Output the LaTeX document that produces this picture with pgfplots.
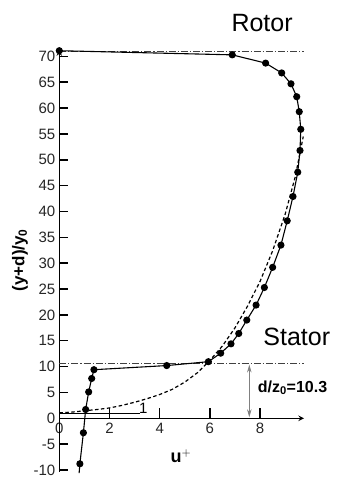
\documentclass[border=0pt]{standalone}
\usepackage{pgfplots}
\pgfplotsset{compat=1.18}
\usepackage{fontspec}
\setmainfont{Liberation Sans}
\usetikzlibrary{arrows.meta}
\pgfplotsset{
  common/.style={
    at={(0,0)}, anchor=origin,
    x=25.1bp, y=5.17bp,
    xmin=0, xmax=9.75,
    axis line style={-, line width=1.5pt},
    major tick length=10bp,
    every tick/.style={line width=1.5pt, black},
    /pgf/number format/assume math mode=true,
    ticklabel style={font=\fontsize{15bp}{17bp}\selectfont, text=black!85},
    clip=false,
  }
}
\begin{document}
\begin{tikzpicture}
\useasboundingbox (-59.3bp,-58.7bp) rectangle (279.7bp,418.3bp);
% x axis at y = 0
\begin{axis}[common,
  ymin=0, ymax=71.2,
  axis x line=bottom, axis y line=none,
  xtick={0,2,4,6,8}, ytick=\empty,
  xtick align=inside,
  xticklabel style={yshift=-1bp},
]
\addplot[draw=none] coordinates {(0,0)};
\end{axis}
\begin{axis}[common,
  ymin=-10.3, ymax=71.2,
  axis y line=left, axis x line=none,
  xtick=\empty,
  ytick={-10,-5,0,5,10,15,20,25,30,35,40,45,50,55,60,65,70},
  ytick align=inside,
  major tick length=9bp,
  yticklabel style={xshift=-0.5bp},
]
\addplot[black!75, line width=0.7pt, dash pattern=on 7pt off 2pt on 1.2pt off 2pt] coordinates {(0,70.9) (9.75,70.9)};
\addplot[black!75, line width=0.7pt, dash pattern=on 7pt off 2pt on 1.2pt off 2pt] coordinates {(0,10.6) (9.75,10.6)};
\addplot[black, line width=0.5pt] coordinates {(0,1.0) (3.2,1.0)};
\addplot[black, line width=1.2pt, dash pattern=on 3.5pt off 2.5pt] coordinates {
(0,1.05) (0.5,1.2) (1,1.45) (1.5,1.7) (2,2.0) (2.5,2.5) (3,3.1) (3.5,3.8) (4,4.6) (4.5,5.6) (5,7.0) (5.5,8.8) (6,11.2) (6.5,14.0) (7,17.5) (7.5,21.7) (8,26.5) (8.5,32.4) (9,39.5) (9.4,46.7) (9.72,54.5)};
\addplot[black, line width=1.1pt, mark=*, mark size=3bp] coordinates {
(0,71.1) (6.89,70.3) (8.22,68.7) (8.86,66.8) (9.23,64.7) (9.46,62.2) (9.56,59.3) (9.62,55.9) (9.59,51.8) (9.5,47.6) (9.31,42.9) (9.08,38.2) (8.83,33.5) (8.5,29.2) (8.17,25.3) (7.84,21.9) (7.47,19.0) (7.15,16.4) (6.84,14.4) (6.43,12.6) (5.94,10.95) (4.28,10.2) (1.38,9.4) (1.29,7.7) (1.17,5.1) (1.05,1.7) (0.96,-2.8) (0.82,-8.8)};
\addplot[black, line width=1.1pt] coordinates {(0.82,-8.8) (0.79,-10.6)};
\draw[gray, line width=0.9pt, {Stealth[length=8bp,width=4.5bp]}-{Stealth[length=8bp,width=4.5bp]}] (axis cs:7.57,10.4) -- (axis cs:7.57,0.2);
\node[anchor=west, font=\bfseries\fontsize{16bp}{18bp}\selectfont, inner sep=0pt] at (axis cs:7.9,5.9) {d/z$_{\mathbf{0}}$=10.3};
\node[font=\fontsize{15bp}{17bp}\selectfont, inner sep=0pt] at (axis cs:3.35,1.9) {1};
\node[font=\fontsize{25bp}{28bp}\selectfont, inner sep=0pt] at (axis cs:8.08,76.5) {Rotor};
\node[font=\fontsize{25bp}{28bp}\selectfont, inner sep=0pt] at (axis cs:9.46,15.7) {Stator};
\node[font=\bfseries\fontsize{18bp}{20bp}\selectfont, inner sep=0pt] at (axis cs:4.85,-7.3) {u$^{\mathbf{+}}$};
\node[rotate=90, font=\bfseries\fontsize{17bp}{19bp}\selectfont, inner sep=0pt] at (axis cs:-1.57,30.6) {(y+d)/y$_{\mathbf{0}}$};
\end{axis}
\end{tikzpicture}
\end{document}
